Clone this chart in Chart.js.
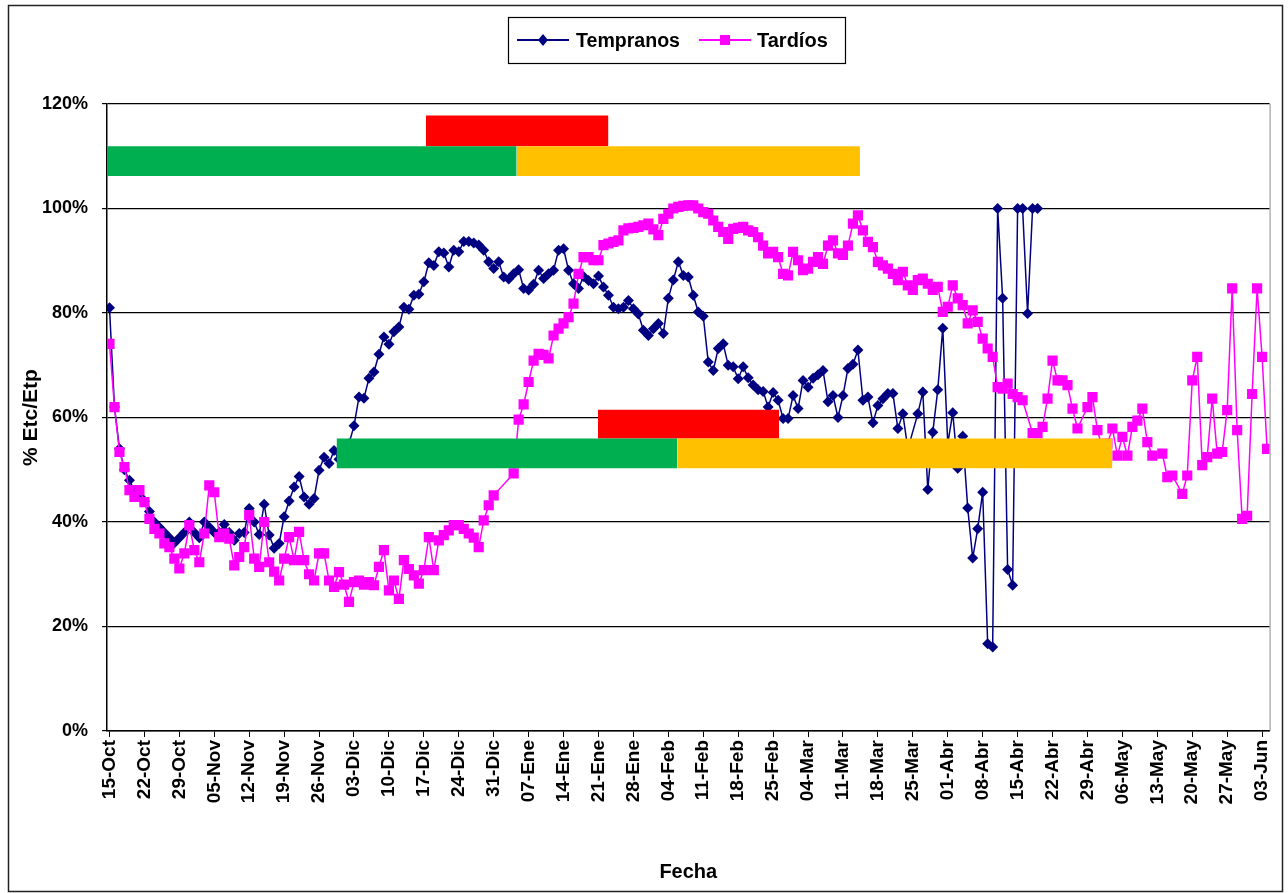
<!DOCTYPE html>
<html>
<head>
<meta charset="utf-8">
<script src="https://cdn.jsdelivr.net/npm/chart.js@4.4.1/dist/chart.umd.min.js"></script>
<style>
html,body{margin:0;padding:0;background:#fff;}
#wrap{width:1288px;height:893px;position:relative;}
</style>
</head>
<body>
<div id="wrap"><canvas id="c" width="1288" height="893"></canvas></div>
<script>
// ---- DATA ----
// x = day number counted from 15-Oct (one value per day, null = no reading)
const tickDays = [0,7,14,21,28,35,42,49,56,63,70,77,84,91,98,105,112,119,126,133,140,147,154,161,168,175,182,189,196,203,210,217,224,231];
const tickLabels = ['15-Oct','22-Oct','29-Oct','05-Nov','12-Nov','19-Nov','26-Nov','03-Dic','10-Dic','17-Dic','24-Dic','31-Dic','07-Ene','14-Ene','21-Ene','28-Ene','04-Feb','11-Feb','18-Feb','25-Feb','04-Mar','11-Mar','18-Mar','25-Mar','01-Abr','08-Abr','15-Abr','22-Abr','29-Abr','06-May','13-May','20-May','27-May','03-Jun'];

const tempranos = [
81,62,54,50,48,46,45,44,42,40,
39,38,37,36,37,38,40,38,37,40,
39,38,38,39.5,38,36.5,37.8,38,42.6,40,
37.6,43.4,37.5,35,35.9,41,44,46.7,48.7,44.8,
43.4,44.5,49.9,52.4,51.2,53.7,52,54,55,58.4,
63.9,63.7,67.5,68.7,72.1,75.4,74,76.4,77.3,81.1,
80.7,83.4,83.6,86,89.6,89.1,91.7,91.5,88.8,92,
91.7,93.7,93.7,93.4,93,92,89.8,88.5,89.8,86.9,
86.5,87.5,88.3,84.7,84.4,85.5,88.2,86.6,87.5,88.2,
92,92.3,88.2,85.6,84.7,87,86.2,85.6,87.1,85,
83.4,81.1,80.8,81.1,82.4,80.8,79.8,76.7,75.7,77,
78,76.1,82.8,86.3,89.8,87.2,86.9,83.4,80.2,79.4,
70.6,69,73.2,74.1,70,69.7,67.4,69.7,67.6,66.2,
65.3,65,62,64.8,63.3,59.8,59.8,64.2,61.7,67.1,
65.8,67.5,68.2,69,63,64.2,60,64.2,69.4,70.2,
72.9,63.3,63.9,59,62.3,63.6,64.6,64.6,57.9,60.7,
54,null,60.7,64.9,46.2,57.2,65.3,77.1,55,60.9,
50.3,56.4,42.7,33.1,38.7,45.7,16.7,16.1,100,82.8,
30.9,27.9,100,100,79.9,100,100
];

const tardios = [
74.1,62,53.4,50.5,46.1,44.8,46.1,43.8,40.6,38.7,
37.8,35.9,35.2,33,31.1,34,39.4,34.6,32.3,37.8,
47,45.7,37.1,37.8,36.8,31.7,33.3,35.2,41.3,33,
31.4,40,32.3,30.5,28.8,33,37.1,32.7,38.1,32.7,
30,28.8,34,34,28.8,27.6,30.4,28,24.7,28.5,
28.8,28,28.5,27.9,31.4,34.6,26.9,28.8,25.3,32.7,
31,29.8,28.2,30.8,37.1,30.8,36.5,37.5,38.4,39.4,
39.4,38.7,37.8,37,35.2,40.3,43.2,45.1,null,null,
null,49.3,59.6,62.5,66.8,70.9,72.2,72,71.3,75.7,
77,78,79.2,81.8,87.5,90.7,90.7,90.1,90.1,93,
93.3,93.6,93.9,95.8,96.2,96.3,96.5,96.8,97.1,96,
94.9,98,99,100,100.3,100.5,100.6,100.6,100,99.3,
99,97.7,96.5,95.5,94.2,96.1,96.3,96.5,95.8,95.5,
94.5,92.9,91.4,91.7,90.7,87.5,87.2,91.7,90.1,88.2,
88.5,89.8,90.7,89.4,92.9,93.9,91.4,91.1,92.9,97.1,
98.7,95.8,93.6,92.6,89.8,89.1,88.5,87.5,86.3,87.9,
85.3,84.4,86.3,86.6,85.6,84.4,85,80.2,81.2,85.3,
82.8,81.5,78,80.5,78.3,75.1,73.2,71.6,65.8,65.5,
66.5,64.5,63.9,63.3,null,57,57,58.2,63.6,70.9,
67.1,67.1,66.2,61.7,57.9,null,62,63.9,57.6,54,
55,57.9,52.7,56.3,52.7,58.2,59.4,61.7,55.3,52.7,
null,53.1,48.6,48.9,null,45.4,48.9,67.1,71.6,50.9,
52.4,63.6,53.1,53.4,61.4,84.7,57.6,40.6,41.2,64.5,
84.7,71.6,54
];

// coloured phase bars: start day, end day, lower %, upper %
const barStart = [-0.5, 81.6, 63.4, 45.5, 113.8, 97.9];
const barEnd   = [81.6, 150.4, 100, 113.8, 201, 134.2];
const barLow   = [106.2, 106.2, 111.9, 50.3, 50.3, 56.0];
const barHigh  = [111.9, 111.9, 117.8, 56.0, 56.0, 61.5];
const barColors = ['#00B050', '#FFC000', '#FF0000', '#00B050', '#FFC000', '#FF0000'];

const seriesNames = ['Tempranos', 'Tardíos'];
const seriesColors = ['#000080', '#FF00FF'];

// ---- CHART ----
const FONT = "'Liberation Sans', Arial, sans-serif";

const barSets = barStart.map((s, i) => ({
  type: 'line',
  label: 'bar' + i,
  data: [{x: s, y: barHigh[i]}, {x: barEnd[i], y: barHigh[i]}],
  fill: {value: barLow[i]},
  backgroundColor: barColors[i],
  borderWidth: 0,
  borderColor: barColors[i],
  pointRadius: 0,
  order: 1
}));

const decor = {
  id: 'decor',
  afterDraw(chart) {
    const ctx = chart.ctx;
    const a = chart.chartArea;
    ctx.save();
    // plot area right border
    ctx.strokeStyle = '#8c8c8c';
    ctx.lineWidth = 1;
    ctx.beginPath();
    ctx.moveTo(a.right + 0.5, a.top);
    ctx.lineTo(a.right + 0.5, a.bottom);
    ctx.stroke();
    // outer frame
    ctx.strokeStyle = '#222';
    ctx.lineWidth = 1.5;
    ctx.strokeRect(8.5, 5.5, 1274, 886);
    // legend box
    const bx = 508, by = 17, bw = 337, bh = 46;
    ctx.fillStyle = '#fff';
    ctx.fillRect(bx, by, bw, bh);
    ctx.strokeStyle = '#000';
    ctx.lineWidth = 1.2;
    ctx.strokeRect(bx + 0.5, by + 0.5, bw, bh);
    const cy = by + bh / 2;
    const items = [
      {x: 517, tx: 576, tw: 104, style: 'diamond'},
      {x: 699, tx: 757, tw: 76, style: 'square'}
    ];
    items.forEach((it, i) => {
      ctx.strokeStyle = seriesColors[i];
      ctx.fillStyle = seriesColors[i];
      ctx.lineWidth = 2;
      ctx.beginPath();
      ctx.moveTo(it.x, cy);
      ctx.lineTo(it.x + 52, cy);
      ctx.stroke();
      const mx = it.x + 26;
      ctx.beginPath();
      if (it.style === 'diamond') {
        ctx.moveTo(mx, cy - 6); ctx.lineTo(mx + 5, cy); ctx.lineTo(mx, cy + 6); ctx.lineTo(mx - 5, cy);
      } else {
        ctx.rect(mx - 5, cy - 5, 10, 10);
      }
      ctx.closePath();
      ctx.fill();
      ctx.fillStyle = '#000';
      ctx.font = 'bold 20px ' + FONT;
      ctx.textBaseline = 'middle';
      ctx.textAlign = 'left';
      ctx.fillText(seriesNames[i], it.tx, cy + 1, it.tw);
    });
    ctx.restore();
  }
};

new Chart(document.getElementById('c'), {
  type: 'line',
  data: {
    datasets: [
      {
        label: seriesNames[0],
        data: tempranos.map((v, i) => ({x: i, y: v})),
        borderColor: seriesColors[0],
        backgroundColor: seriesColors[0],
        borderWidth: 1.5,
        pointStyle: 'rectRot',
        pointRadius: 5.5,
        pointBorderWidth: 0,
        pointHoverRadius: 5.5,
        spanGaps: true,
        tension: 0,
        fill: false,
        order: 3
      },
      {
        label: seriesNames[1],
        data: tardios.map((v, i) => ({x: i, y: v})),
        borderColor: seriesColors[1],
        backgroundColor: seriesColors[1],
        borderWidth: 1.5,
        pointStyle: 'rect',
        pointRadius: 7.2,
        pointBorderWidth: 0,
        pointHoverRadius: 7.2,
        spanGaps: true,
        tension: 0,
        fill: false,
        order: 2
      },
      ...barSets
    ]
  },
  options: {
    responsive: false,
    animation: false,
    devicePixelRatio: 1,
    layout: {padding: {left: 10, top: 104, right: 15, bottom: 5}},
    plugins: {
      legend: {display: false},
      tooltip: {enabled: false},
      filler: {propagate: false}
    },
    scales: {
      x: {
        type: 'linear',
        min: -0.5,
        max: 232.5,
        afterBuildTicks: (scale) => { scale.ticks = tickDays.map(v => ({value: v})); },
        afterFit: (scale) => { scale.height = 893 - 5 - 731; },
        ticks: {
          autoSkip: false,
          maxRotation: 90,
          minRotation: 90,
          padding: 3,
          color: '#000',
          font: {family: FONT, size: 19, weight: 'bold'},
          callback: (value, index) => tickLabels[index]
        },
        grid: {display: true, drawOnChartArea: false, drawTicks: true, tickLength: 6, color: '#000', lineWidth: 1},
        border: {display: true, color: '#000', width: 1.5},
        title: {
          display: true,
          text: 'Fecha',
          color: '#000',
          font: {family: FONT, size: 20, weight: 'bold'},
          padding: {top: 0, bottom: 4}
        }
      },
      y: {
        type: 'linear',
        min: 0,
        max: 120,
        afterFit: (scale) => { scale.width = 107 - 10; },
        ticks: {
          stepSize: 20,
          padding: 14,
          color: '#000',
          font: {family: FONT, size: 18, weight: 'bold'},
          callback: (v) => v + '%'
        },
        grid: {color: '#000', lineWidth: 1.2, tickLength: 5, drawTicks: true},
        border: {display: true, color: '#000', width: 1.5},
        title: {
          display: true,
          text: '% Etc/Etp',
          color: '#000',
          font: {family: FONT, size: 21, weight: 'bold'},
          padding: {top: 9, bottom: 0}
        }
      }
    }
  },
  plugins: [decor]
});
</script>
</body>
</html>
